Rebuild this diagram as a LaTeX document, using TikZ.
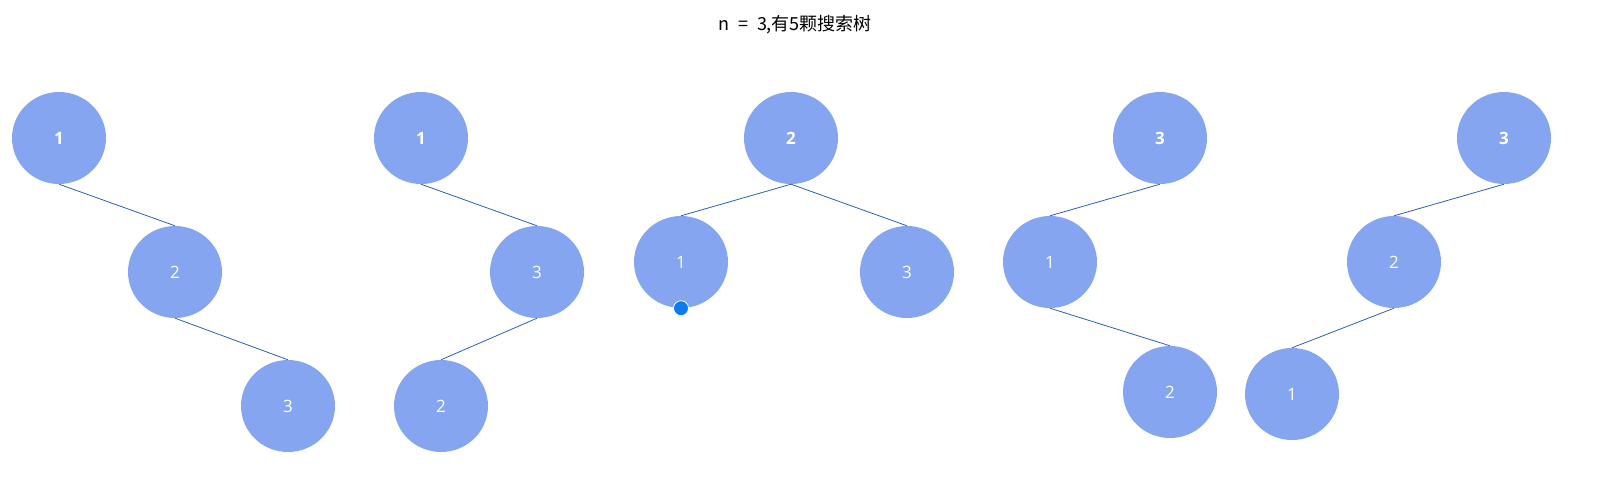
\documentclass[tikz,border=0pt]{standalone}
\usepackage{fontspec}
\usetikzlibrary{shapes.geometric}
\setmainfont{Open Sans}
\newfontfamily\cjk{Noto Sans CJK SC}
\definecolor{nodefill}{RGB}{133,165,240}
\definecolor{edgecol}{RGB}{47,95,176}
\definecolor{dotcol}{RGB}{10,124,240}
\begin{document}
\begin{tikzpicture}[x=1pt,y=-1pt,
  tn/.style={ellipse,fill=nodefill,minimum width=94pt,minimum height=92pt,inner sep=0pt,text=white,font=\fontsize{17}{20}\selectfont},
  rt/.style={tn,font=\fontsize{17}{20}\selectfont\bfseries},
  ed/.style={draw=edgecol,line width=0.8pt}]
\useasboundingbox (0,0) rectangle (1607,482);
\node[font=\cjk\fontsize{18}{22}\selectfont] (title) at (795,25) {n\enspace=\enspace3,有5颗搜索树};
% tree 1
\node[rt] (a1) at (59,138) {1};
\node[tn] (a2) at (175,272) {2};
\node[tn] (a3) at (288,406) {3};
\draw[ed] (a1.south) -- (a2.north);
\draw[ed] (a2.south) -- (a3.north);
% tree 2
\node[rt] (b1) at (421,138) {1};
\node[tn] (b3) at (537,272) {3};
\node[tn] (b2) at (441,406) {2};
\draw[ed] (b1.south) -- (b3.north);
\draw[ed] (b3.south) -- (b2.north);
% tree 3
\node[rt] (c2) at (791,138) {2};
\node[tn] (c1) at (681,262) {1};
\node[tn] (c3) at (907,272) {3};
\draw[ed] (c2.south) -- (c1.north);
\draw[ed] (c2.south) -- (c3.north);
\node[circle,fill=dotcol,draw=white,line width=0.8pt,minimum size=15pt,inner sep=0pt] (dot) at (c1.south) {};
% tree 4
\node[rt] (d3) at (1160,138) {3};
\node[tn] (d1) at (1050,262) {1};
\node[tn] (d2) at (1170,392) {2};
\draw[ed] (d3.south) -- (d1.north);
\draw[ed] (d1.south) -- (d2.north);
% tree 5
\node[rt] (e3) at (1504,138) {3};
\node[tn] (e2) at (1394,262) {2};
\node[tn] (e1) at (1292,394) {1};
\draw[ed] (e3.south) -- (e2.north);
\draw[ed] (e2.south) -- (e1.north);
\end{tikzpicture}
\end{document}
